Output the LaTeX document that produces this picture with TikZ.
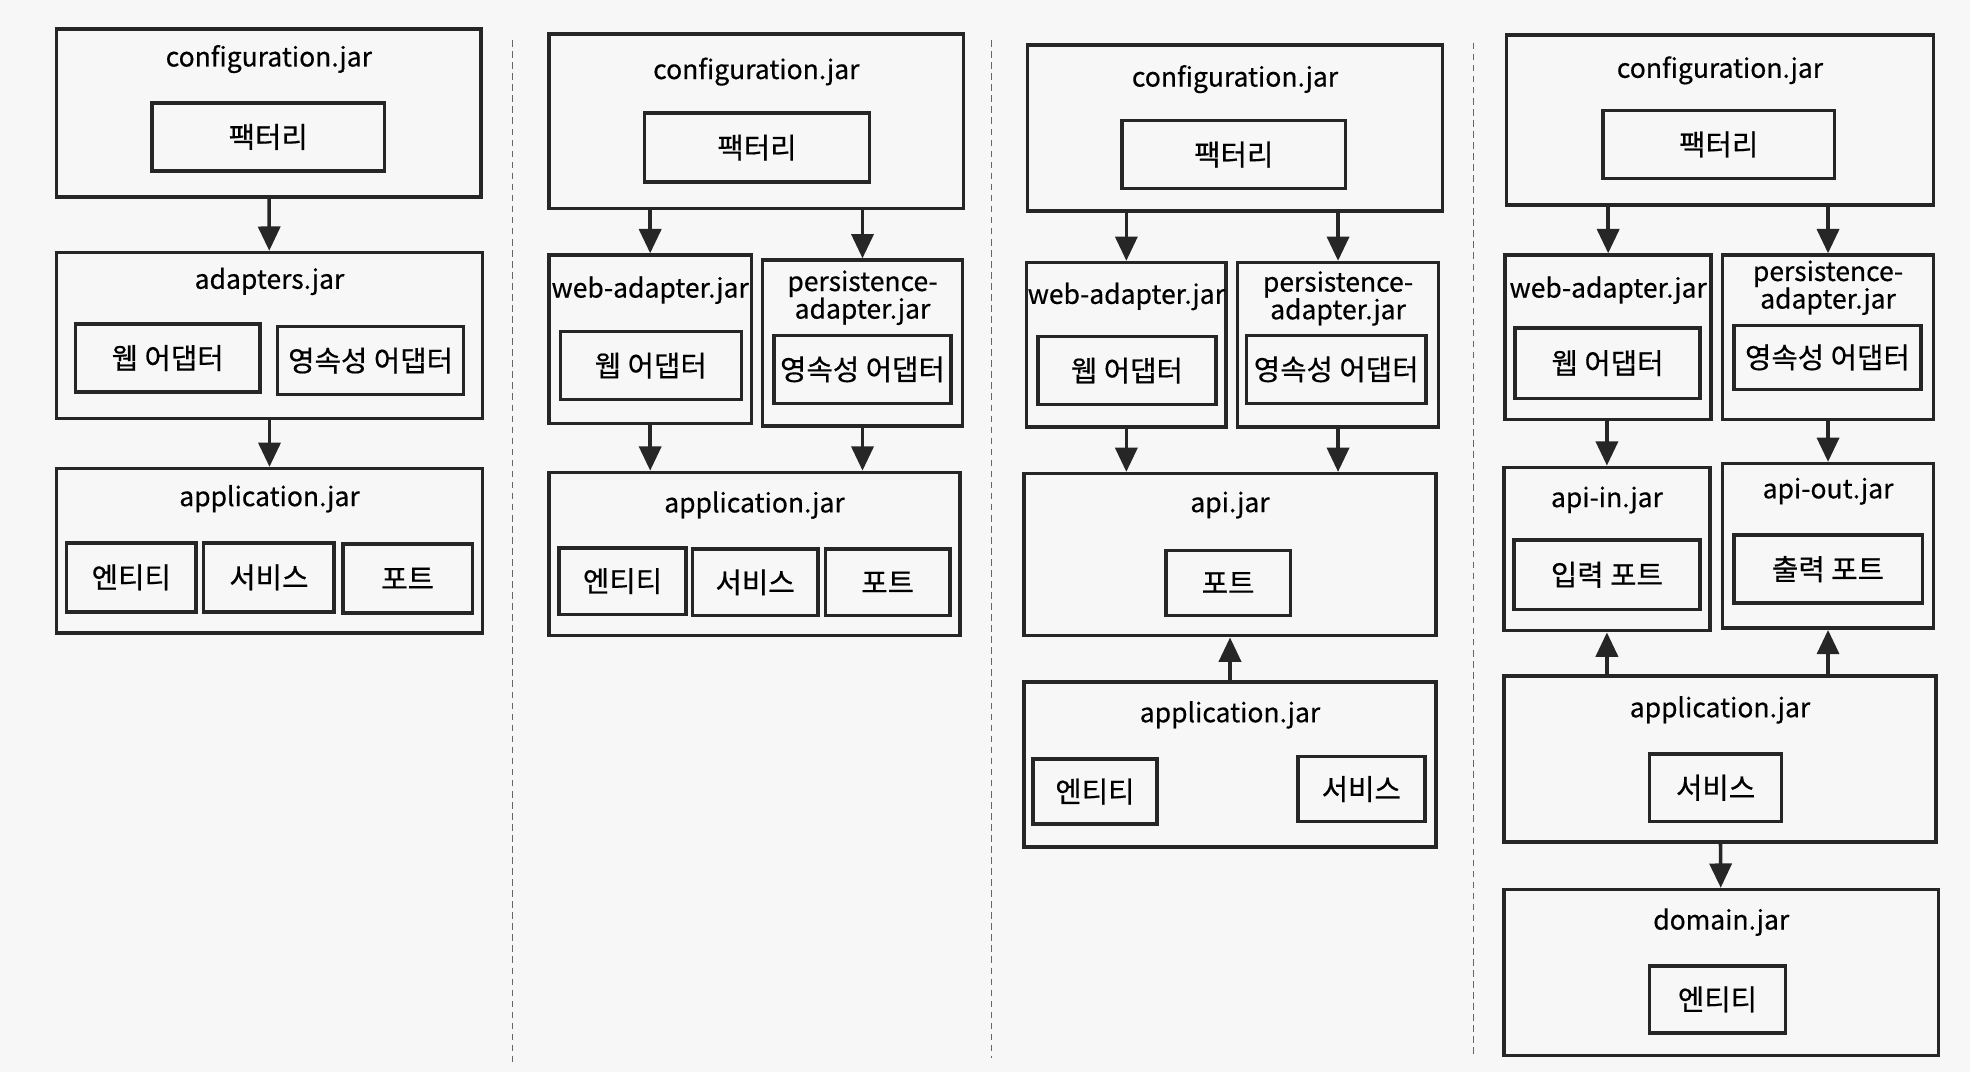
\documentclass[tikz,border=0pt]{standalone}
\usepackage{fontspec}
\setmainfont{Noto Sans CJK KR}[FakeBold=0.5]
\usetikzlibrary{arrows.meta}
\newdimen\px \px=0.2mm
\tikzset{
    jar/.style ={
        rectangle,
        inner sep=0pt,
        line width=1.6pt,
        draw=black!85
    },
    part/.style ={
        rectangle,
        inner sep=0pt,
        line width=1.6pt,
        draw=black!85,
        font=\fontsize{13}{14}\selectfont
    },
    title/.style ={
        inner sep=0pt,
        align=center
    },
    arr/.style ={
        line width=1.6pt,
        draw=black!85,
        -{Triangle[length=11pt,width=10pt]}
    },
    sep/.style ={
        draw=black!60,
        line width=0.6pt,
        dash pattern=on 3pt off 2pt
    }
}

\begin{document}
\begin{tikzpicture}[x=\px,y=-\px,font=\fontsize{12}{12.5}\selectfont]
        \fill[black!3] (0,0) rectangle (1568,853);
        \useasboundingbox (0,0) rectangle (1568,853);

        % column 1
        \node[jar, minimum width=338\px, minimum height=134\px] (CFGA) at (214,90) {};
        \node[title] at (214,47) {configuration.jar};
        \node[part, minimum width=185\px, minimum height=54\px] (FACA) at (213.5,109) {팩터리};
        \node[jar, minimum width=339\px, minimum height=132\px] (ADPA) at (214.5,267) {};
        \node[title] at (214.5,224) {adapters.jar};
        \node[part, minimum width=147\px, minimum height=54\px] (WEBA) at (133.5,285) {웹 어댑터};
        \node[part, minimum width=148\px, minimum height=54\px] (PERA) at (295,287) {영속성 어댑터};
        \node[jar, minimum width=339\px, minimum height=131\px] (APPA) at (214.5,438.5) {};
        \node[title] at (214.5,397) {application.jar};
        \node[part, minimum width=103\px, minimum height=55\px] (ENTA) at (104.5,459.5) {엔티티};
        \node[part, minimum width=104\px, minimum height=55\px] (SVCA) at (214,459.5) {서비스};
        \node[part, minimum width=103\px, minimum height=55\px] (PRTA) at (324.5,460.5) {포트};
        \draw[arr] (CFGA)--(ADPA);
        \draw[arr] (ADPA)--(APPA);

        \draw[sep] (408,32)--(408,845);

        % column 2
        \node[jar, minimum width=330\px, minimum height=139\px] (CFGB) at (602,96.5) {};
        \node[title] at (602,57) {configuration.jar};
        \node[part, minimum width=179\px, minimum height=55\px] (FACB) at (602.5,117.5) {팩터리};
        \node[jar, minimum width=161\px, minimum height=134\px] (WEBB) at (517.5,270) {};
        \node[title] at (517.5,231) {web-adapter.jar};
        \node[part, minimum width=144\px, minimum height=54\px] (WEBINB) at (518,291) {웹 어댑터};
        \node[jar, minimum width=159\px, minimum height=132\px] (PERB) at (686.5,273) {};
        \node[title] at (686.5,237) {persistence-\\adapter.jar};
        \node[part, minimum width=141\px, minimum height=54\px] (PERINB) at (686.5,294) {영속성 어댑터};
        \node[jar, minimum width=327\px, minimum height=130\px] (APPB) at (600.5,441) {};
        \node[title] at (600.5,402) {application.jar};
        \node[part, minimum width=101\px, minimum height=53\px] (ENTB) at (495.5,462.5) {엔티티};
        \node[part, minimum width=100\px, minimum height=53\px] (SVCB) at (601,463.5) {서비스};
        \node[part, minimum width=99\px, minimum height=53\px] (PRTB) at (706.5,463.5) {포트};
        \draw[arr] (CFGB.south -| WEBB)--(WEBB.north);
        \draw[arr] (CFGB.south -| PERB)--(PERB.north);
        \draw[arr] (WEBB.south)--(APPB.north -| WEBB);
        \draw[arr] (PERB.south)--(APPB.north -| PERB);

        \draw[sep] (789,32)--(789,842);

        % column 3
        \node[jar, minimum width=330\px, minimum height=132\px] (CFGC) at (983,102) {};
        \node[title] at (983,63) {configuration.jar};
        \node[part, minimum width=178\px, minimum height=54\px] (FACC) at (982,123) {팩터리};
        \node[jar, minimum width=159\px, minimum height=131\px] (WEBC) at (896.5,274.5) {};
        \node[title] at (896.5,236) {web-adapter.jar};
        \node[part, minimum width=142\px, minimum height=54\px] (WEBINC) at (897,295) {웹 어댑터};
        \node[jar, minimum width=160\px, minimum height=131\px] (PERC) at (1065,274.5) {};
        \node[title] at (1065,237.5) {persistence-\\adapter.jar};
        \node[part, minimum width=143\px, minimum height=54\px] (PERINC) at (1063.5,294) {영속성 어댑터};
        \node[jar, minimum width=328\px, minimum height=129\px] (APIC) at (979,441.5) {};
        \node[title] at (979,402) {api.jar};
        \node[part, minimum width=99\px, minimum height=52\px] (PRTC) at (977.5,464) {포트};
        \node[jar, minimum width=328\px, minimum height=131\px] (APPC) at (979,608.5) {};
        \node[title] at (979,569) {application.jar};
        \node[part, minimum width=99\px, minimum height=52\px] (ENTC) at (871.5,630) {엔티티};
        \node[part, minimum width=101\px, minimum height=52\px] (SVCC) at (1083.5,628) {서비스};
        \draw[arr] (CFGC.south -| WEBC)--(WEBC.north);
        \draw[arr] (CFGC.south -| PERC)--(PERC.north);
        \draw[arr] (WEBC.south)--(APIC.north -| WEBC);
        \draw[arr] (PERC.south)--(APIC.north -| PERC);
        \draw[arr] (APPC)--(APIC);

        \draw[sep] (1173,34)--(1173,842);

        % column 4
        \node[jar, minimum width=340\px, minimum height=135\px] (CFGD) at (1369,95.5) {};
        \node[title] at (1369,56) {configuration.jar};
        \node[part, minimum width=184\px, minimum height=54\px] (FACD) at (1368,115) {팩터리};
        \node[jar, minimum width=164\px, minimum height=131\px] (WEBD) at (1280,268.5) {};
        \node[title] at (1280,231) {web-adapter.jar};
        \node[part, minimum width=147\px, minimum height=56\px] (WEBIND) at (1279.5,289) {웹 어댑터};
        \node[jar, minimum width=168\px, minimum height=131\px] (PERD) at (1455,268.5) {};
        \node[title] at (1455,229) {persistence-\\adapter.jar};
        \node[part, minimum width=149\px, minimum height=51\px] (PERIND) at (1454.5,284.5) {영속성 어댑터};
        \node[jar, minimum width=164\px, minimum height=130\px] (APIIND) at (1279,437) {};
        \node[title] at (1279,398) {api-in.jar};
        \node[part, minimum width=148\px, minimum height=55\px] (INPD) at (1279,457.5) {입력 포트};
        \node[jar, minimum width=168\px, minimum height=131\px] (APIOUTD) at (1455,434.5) {};
        \node[title] at (1455,391) {api-out.jar};
        \node[part, minimum width=150\px, minimum height=54\px] (OUTPD) at (1455,453) {출력 포트};
        \node[jar, minimum width=344\px, minimum height=132\px] (APPD) at (1369,604) {};
        \node[title] at (1369,565) {application.jar};
        \node[part, minimum width=105\px, minimum height=54\px] (SVCD) at (1365.5,627) {서비스};
        \node[jar, minimum width=346\px, minimum height=132\px] (DOMD) at (1370,774) {};
        \node[title] at (1370,734) {domain.jar};
        \node[part, minimum width=108\px, minimum height=53\px] (ENTD) at (1367,795.5) {엔티티};
        \draw[arr] (CFGD.south -| WEBD)--(WEBD.north);
        \draw[arr] (CFGD.south -| PERD)--(PERD.north);
        \draw[arr] (WEBD.south -| APIIND)--(APIIND.north);
        \draw[arr] (PERD.south)--(APIOUTD.north -| PERD);
        \draw[arr] (APPD.north -| APIIND)--(APIIND.south);
        \draw[arr] (APPD.north -| APIOUTD)--(APIOUTD.south);
        \draw[arr] (APPD)--(DOMD);
    \end{tikzpicture}
\end{document}
